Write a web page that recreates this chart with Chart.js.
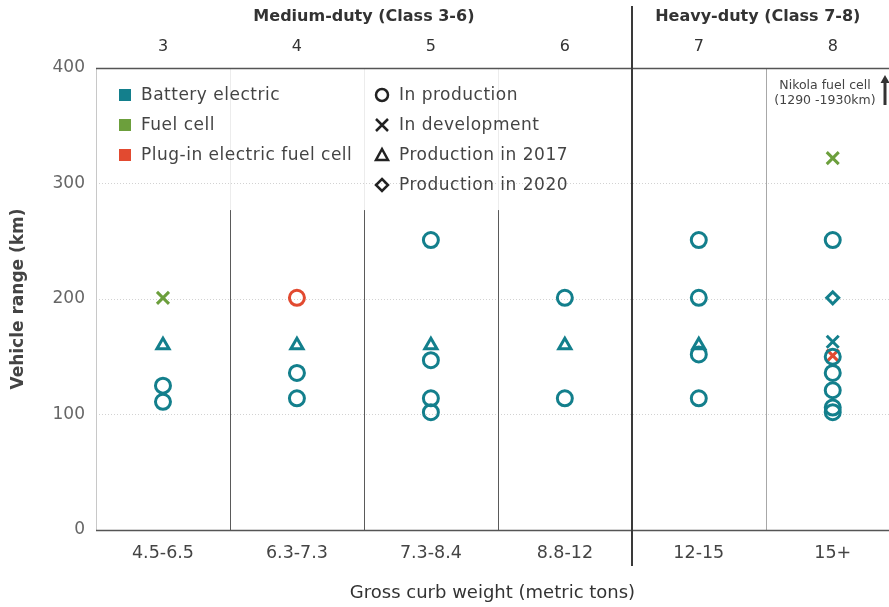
<!DOCTYPE html>
<html>
<head>
<meta charset="utf-8">
<script src="https://cdn.jsdelivr.net/npm/chart.js@4.4.1/dist/chart.umd.min.js"></script>
<style>
  html, body { margin: 0; padding: 0; background: #fff; }
  #wrap { width: 889px; height: 607px; }
</style>
</head>
<body>
<div id="wrap"><canvas id="rangeChart" width="889" height="607"></canvas></div>
<script>
// ===== DATA =====
const categories = ["4.5-6.5", "6.3-7.3", "7.3-8.4", "8.8-12", "12-15", "15+"];
const classes = ["3", "4", "5", "6", "7", "8"];
const yTicks = [0, 100, 200, 300, 400];

// one list of ranges (km) per weight category
const batteryProduction = [[125, 111], [136, 114], [251, 147, 114, 102], [201, 114], [251, 201, 152, 114], [251, 150, 136, 121, 106, 102]];
const batteryDevelopment = [[], [], [], [], [], [163]];
const battery2017 = [[160], [160], [160], [160], [160], []];
const battery2020 = [[], [], [], [], [], [201]];
const fuelCellDevelopment = [[201], [], [], [], [], [322]];
const plugInProduction = [[], [201], [], [], [], []];
const plugInDevelopment = [[], [], [], [], [], [151]];

const techLabels = ["Battery electric", "Fuel cell", "Plug-in electric fuel cell"];
const statusLabels = ["In production", "In development", "Production in 2017", "Production in 2020"];
const groupLabels = ["Medium-duty (Class 3-6)", "Heavy-duty (Class 7-8)"];
const noteLines = ["Nikola fuel cell", "(1290 -1930km)"];

const TEAL = "#137f8c";
const GREEN = "#6c9f3c";
const RED = "#e24a30";
const FONT = "'DejaVu Sans', sans-serif";

function toPoints(values) {
  const pts = [];
  values.forEach((list, i) => list.forEach((v) => pts.push({ x: i + 0.5, y: v })));
  return pts;
}

function markerSet(label, values, color, style, radius) {
  return {
    label,
    data: toPoints(values),
    pointStyle: style,
    pointRadius: radius,
    pointHoverRadius: radius,
    borderColor: color,
    backgroundColor: "rgba(0,0,0,0)",
    pointBorderWidth: 3,
    showLine: false,
  };
}

// ===== LINES, HEADERS, LEGEND =====
const decorations = {
  id: "decorations",
  beforeDatasetsDraw(chart) {
    const { ctx, chartArea, scales } = chart;
    const x = scales.x, y = scales.y;
    const top = chartArea.top, bottom = chartArea.bottom;
    ctx.save();
    // left edge
    ctx.strokeStyle = "#c8c8c8";
    ctx.lineWidth = 1;
    ctx.beginPath();
    ctx.moveTo(x.getPixelForValue(0) + 0.5, top);
    ctx.lineTo(x.getPixelForValue(0) + 0.5, bottom);
    ctx.stroke();
    // medium-duty separators
    for (let i = 1; i <= 3; i++) {
      const px = Math.round(x.getPixelForValue(i)) + 0.5;
      ctx.strokeStyle = "#ececec";
      ctx.beginPath();
      ctx.moveTo(px, top);
      ctx.lineTo(px, y.getPixelForValue(277));
      ctx.stroke();
      ctx.strokeStyle = "#5a5a5a";
      ctx.beginPath();
      ctx.moveTo(px, y.getPixelForValue(277));
      ctx.lineTo(px, bottom);
      ctx.stroke();
    }
    // class 7 / 8 separator
    const p5 = Math.round(x.getPixelForValue(5)) + 0.5;
    ctx.strokeStyle = "#a8a8a8";
    ctx.beginPath();
    ctx.moveTo(p5, top);
    ctx.lineTo(p5, bottom);
    ctx.stroke();
    // top & bottom borders
    ctx.strokeStyle = "#555";
    ctx.lineWidth = 1.5;
    [400, 0].forEach((v) => {
      const py = Math.round(y.getPixelForValue(v)) + 0.5;
      ctx.beginPath();
      ctx.moveTo(chartArea.left, py);
      ctx.lineTo(chartArea.right, py);
      ctx.stroke();
    });
    // medium / heavy divider
    const p4 = Math.round(x.getPixelForValue(4));
    ctx.strokeStyle = "#3a3a3a";
    ctx.lineWidth = 2;
    ctx.beginPath();
    ctx.moveTo(p4, 6);
    ctx.lineTo(p4, 566);
    ctx.stroke();

    // Nikola note box
    ctx.fillStyle = "#fff";
    ctx.fillRect(p5 + 1, top + 2, chartArea.right - p5, 42);
    ctx.fillStyle = "#444";
    ctx.font = "12.5px " + FONT;
    ctx.textAlign = "center";
    ctx.textBaseline = "middle";
    ctx.fillText(noteLines[0], 825, 86);
    ctx.fillText(noteLines[1], 825, 101);
    ctx.strokeStyle = "#333";
    ctx.lineWidth = 3;
    ctx.beginPath();
    ctx.moveTo(885, 105);
    ctx.lineTo(885, 82);
    ctx.stroke();
    ctx.fillStyle = "#333";
    ctx.beginPath();
    ctx.moveTo(880.5, 83);
    ctx.lineTo(885, 75);
    ctx.lineTo(889.5, 83);
    ctx.closePath();
    ctx.fill();
    ctx.restore();
  },
  afterDraw(chart) {
    const { ctx, scales } = chart;
    const x = scales.x;
    ctx.save();
    // group headers
    ctx.fillStyle = "#333";
    ctx.font = "bold 16px " + FONT;
    ctx.textAlign = "center";
    ctx.textBaseline = "middle";
    ctx.fillText(groupLabels[0], (x.getPixelForValue(0) + x.getPixelForValue(4)) / 2, 17);
    ctx.fillText(groupLabels[1], (x.getPixelForValue(4) + x.getPixelForValue(6)) / 2 - 8, 17);

    // legend: technology colours
    const techColors = [TEAL, GREEN, RED];
    ctx.font = "17px " + FONT;
    ctx.letterSpacing = "0.5px";
    ctx.textAlign = "left";
    techLabels.forEach((t, i) => {
      const cy = 95 + i * 30;
      ctx.fillStyle = techColors[i];
      ctx.fillRect(119, cy - 6, 12, 12);
      ctx.fillStyle = "#444";
      ctx.fillText(t, 141, cy + 1);
    });
    // legend: status symbols
    ctx.strokeStyle = "#222";
    ctx.lineWidth = 2.5;
    statusLabels.forEach((t, i) => {
      const cy = 95 + i * 30;
      const cx = 382;
      ctx.beginPath();
      if (i === 0) {
        ctx.arc(cx, cy, 6, 0, Math.PI * 2);
      } else if (i === 1) {
        ctx.moveTo(cx - 6, cy - 6); ctx.lineTo(cx + 6, cy + 6);
        ctx.moveTo(cx + 6, cy - 6); ctx.lineTo(cx - 6, cy + 6);
      } else if (i === 2) {
        ctx.moveTo(cx, cy - 6); ctx.lineTo(cx + 6, cy + 5); ctx.lineTo(cx - 6, cy + 5); ctx.closePath();
      } else {
        ctx.moveTo(cx, cy - 6); ctx.lineTo(cx + 6, cy); ctx.lineTo(cx, cy + 6); ctx.lineTo(cx - 6, cy); ctx.closePath();
      }
      ctx.stroke();
      ctx.fillStyle = "#444";
      ctx.fillText(t, 399, cy + 1);
    });
    ctx.restore();
  },
};

const ctx = document.getElementById("rangeChart");

new Chart(ctx, {
  type: "scatter",
  data: {
    datasets: [
      markerSet("Battery electric - in production", batteryProduction, TEAL, "circle", 7.5),
      markerSet("Battery electric - in development", batteryDevelopment, TEAL, "crossRot", 8.5),
      markerSet("Battery electric - 2017", battery2017, TEAL, "triangle", 7),
      markerSet("Battery electric - 2020", battery2020, TEAL, "rectRot", 6),
      markerSet("Plug-in electric fuel cell - in production", plugInProduction, RED, "circle", 7.5),
      markerSet("Plug-in electric fuel cell - in development", plugInDevelopment, RED, "crossRot", 8.5),
      markerSet("Fuel cell - in development", fuelCellDevelopment, GREEN, "crossRot", 8.5),
    ],
  },
  plugins: [decorations],
  options: {
    responsive: false,
    animation: false,
    layout: { autoPadding: false, padding: 0 },
    plugins: {
      legend: { display: false },
      tooltip: { enabled: false },
    },
    scales: {
      x: {
        type: "linear",
        position: "bottom",
        min: 0,
        max: 5.92,
        afterBuildTicks: (s) => { s.ticks = categories.map((c, i) => ({ value: i + 0.5 })); },
        afterFit: (s) => { s.height = 77; },
        ticks: {
          callback: (v) => categories[Math.floor(v)],
          color: "#444",
          font: { family: FONT, size: 17.5 },
          padding: 13,
          maxRotation: 0,
        },
        grid: { display: false, drawTicks: false },
        border: { display: false },
        title: {
          display: true,
          text: "Gross curb weight (metric tons)",
          color: "#333",
          font: { family: FONT, size: 18 },
          padding: { top: 0, bottom: 3 },
        },
      },
      x2: {
        type: "linear",
        position: "top",
        min: 0,
        max: 5.92,
        afterBuildTicks: (s) => { s.ticks = classes.map((c, i) => ({ value: i + 0.5 })); },
        afterFit: (s) => { s.height = 68; },
        ticks: {
          callback: (v) => classes[Math.floor(v)],
          color: "#333",
          font: { family: FONT, size: 16 },
          padding: 12,
          maxRotation: 0,
        },
        grid: { display: false, drawTicks: false },
        border: { display: false },
      },
      y: {
        min: 0,
        max: 400,
        afterBuildTicks: (s) => { s.ticks = yTicks.map((v) => ({ value: v })); },
        afterFit: (s) => { s.width = 96; },
        ticks: {
          color: "#666",
          font: { family: FONT, size: 17 },
          padding: 11,
        },
        grid: {
          color: (c) => (c.tick.value === 0 || c.tick.value === 400 ? "rgba(0,0,0,0)" : "#d2d2d2"),
          drawTicks: false,
        },
        border: { display: false, dash: [1, 2] },
        title: {
          display: true,
          text: "Vehicle range (km)",
          color: "#444",
          font: { family: FONT, size: 17, weight: "bold" },
          padding: { top: 8, bottom: 0 },
        },
      },
    },
  },
});
</script>
</body>
</html>
